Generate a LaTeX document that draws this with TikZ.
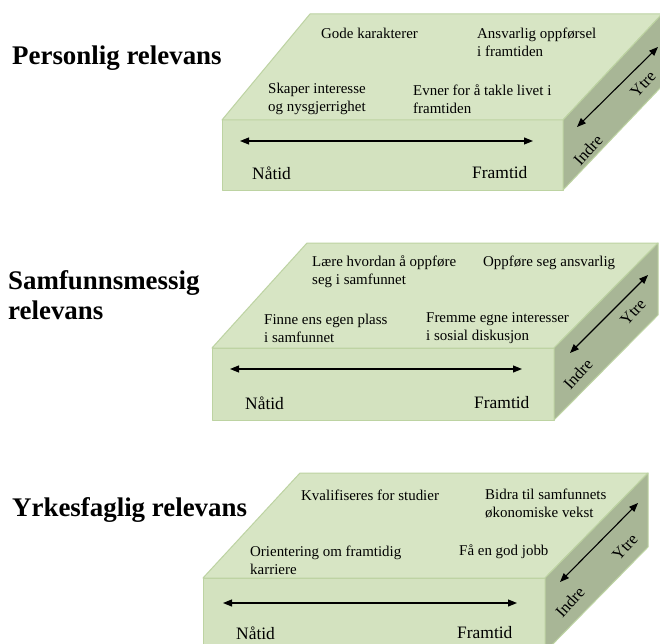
\documentclass[tikz,border=0pt]{standalone}
\usepackage{fontspec}
\setmainfont{Liberation Serif}
\usetikzlibrary{arrows.meta}
\definecolor{topc}{HTML}{D7E5C4}
\definecolor{frontc}{HTML}{D3E2BF}
\definecolor{sidec}{HTML}{A8B696}
\definecolor{edgec}{HTML}{BDD3A2}
\tikzset{
  topface/.style={fill=topc, draw=edgec, line width=1bp, line join=round},
  frontface/.style={fill=frontc, draw=edgec, line width=1bp, line join=round},
  sideface/.style={fill=sidec, draw=edgec, line width=1bp, line join=round},
  lbl/.style={anchor=west, inner sep=0, align=left, font=\fontsize{15}{18}\selectfont},
  axislbl/.style={anchor=west, inner sep=0, font=\fontsize{17.5}{20}\selectfont},
  ttl/.style={anchor=west, inner sep=0, align=left, font=\fontsize{27}{30}\selectfont\bfseries},
  sidelbl/.style={inner sep=0, rotate=48, font=\fontsize{16.5}{18}\selectfont},
  dbl/.style={{Triangle[length=9bp,width=7bp]}-{Triangle[length=9bp,width=7bp]}, line width=1.1bp},
}
\begin{document}
\begin{tikzpicture}[x=1bp,y=-1bp]
\useasboundingbox (0,0) rectangle (660,644);
\clip (0,0) rectangle (660,644);
\fill[white] (0,0) rectangle (660,644);

% ---------- Box 1 ----------
\node[ttl] (t1) at (12,58) {Personlig relevans};
\draw[frontface] (222,120) rectangle (563,190);
\draw[topface] (222,120) -- (310,14) -- (662,14) -- (563,120) -- cycle;
\draw[sideface] (563,120) -- (662,14) -- (662,86) -- (563,190) -- cycle;
\node[lbl] (a1) at (321,33) {Gode karakterer};
\node[lbl] (b1) at (477,42.5) {Ansvarlig oppførsel\\i framtiden};
\node[lbl] (c1) at (268,99) {Skaper interesse\\og nysgjerrighet};
\node[lbl] (d1) at (413,99) {Evner for å takle livet i\\framtiden};
\coordinate (h1l) at (240,141);
\coordinate (h1r) at (533,141);
\draw[dbl] (h1l) -- (h1r);
\node[axislbl] (n1) at (252,173) {Nåtid};
\node[axislbl] (f1) at (472,173) {Framtid};
\coordinate (s1a) at (577,127);
\coordinate (s1b) at (658,47);
\draw[dbl] (s1a) -- (s1b);
\node[sidelbl] (i1) at (588,150) {Indre};
\node[sidelbl] (y1) at (643,84) {Ytre};

% ---------- Box 2 ----------
\node[ttl] (t2) at (8,295) {Samfunnsmessig\\relevans};
\draw[frontface] (212,348) rectangle (554,420);
\draw[topface] (212,348) -- (307,243) -- (658,243) -- (554,348) -- cycle;
\draw[sideface] (554,348) -- (658,243) -- (658,315) -- (554,420) -- cycle;
\node[lbl] (a2) at (312,271.5) {Lære hvordan å oppføre\\seg i samfunnet};
\node[lbl] (b2) at (483,263) {Oppføre seg ansvarlig};
\node[lbl] (c2) at (264,328) {Finne ens egen plass\\i samfunnet};
\node[lbl] (d2) at (426,328) {Fremme egne interesser\\i sosial diskusjon};
\coordinate (h2l) at (230,369);
\coordinate (h2r) at (522,369);
\draw[dbl] (h2l) -- (h2r);
\node[axislbl] (n2) at (245,403) {Nåtid};
\node[axislbl] (f2) at (474,403) {Framtid};
\coordinate (s2a) at (570,353);
\coordinate (s2b) at (648,275);
\draw[dbl] (s2a) -- (s2b);
\node[sidelbl] (i2) at (578,374) {Indre};
\node[sidelbl] (y2) at (633,312) {Ytre};

% ---------- Box 3 ----------
\node[ttl] (t3) at (12,510) {Yrkesfaglig relevans};
\draw[frontface] (203,578) rectangle (545,652);
\draw[topface] (203,578) -- (300,473) -- (648,473) -- (545,578) -- cycle;
\draw[sideface] (545,578) -- (648,473) -- (648,547) -- (545,652) -- cycle;
\node[lbl] (a3) at (301,495) {Kvalifiseres for studier};
\node[lbl] (b3) at (485,504) {Bidra til samfunnets\\økonomiske vekst};
\node[lbl] (c3) at (250,560) {Orientering om framtidig\\karriere};
\node[lbl] (d3) at (459,552) {Få en god jobb};
\coordinate (h3l) at (223,603);
\coordinate (h3r) at (517,603);
\draw[dbl] (h3l) -- (h3r);
\node[axislbl] (n3) at (236,633) {Nåtid};
\node[axislbl] (f3) at (457,633) {Framtid};
\coordinate (s3a) at (560,582);
\coordinate (s3b) at (638,503);
\draw[dbl] (s3a) -- (s3b);
\node[sidelbl] (i3) at (570,602) {Indre};
\node[sidelbl] (y3) at (625,547) {Ytre};
\end{tikzpicture}
\end{document}
